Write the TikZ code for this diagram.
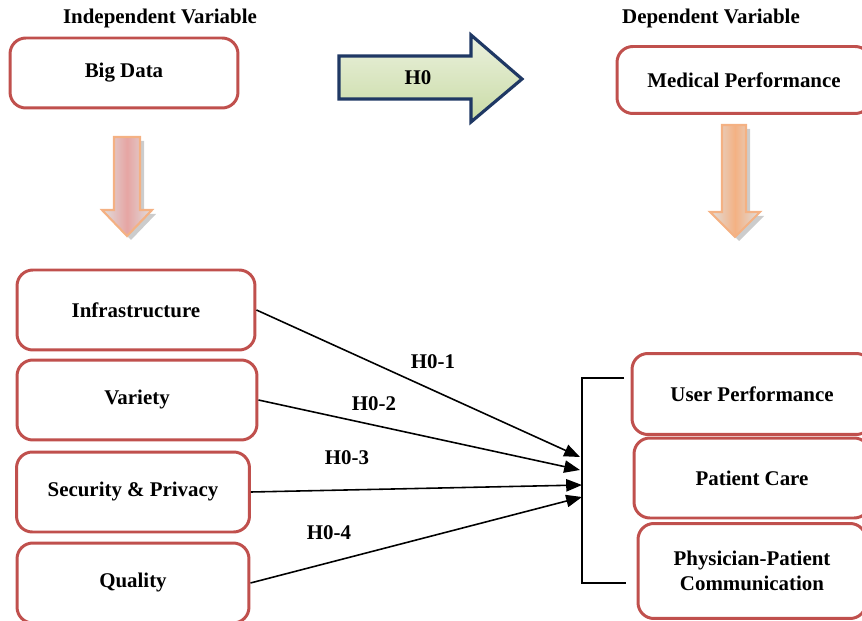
\documentclass[tikz,border=0pt]{standalone}
\usepackage{fontspec}
\setmainfont{Liberation Serif}
\usetikzlibrary{arrows.meta}
\definecolor{boxred}{HTML}{C0504D}
\definecolor{navy}{HTML}{1F3864}
\definecolor{lightgreen}{HTML}{EBF1DE}
\definecolor{midgreen}{HTML}{C9DBA5}
\definecolor{peach}{HTML}{F4B183}
\definecolor{rosy}{HTML}{E6A5A3}

\tikzset{
  varbox/.style={draw=boxred, line width=1.7pt, rounded corners=9pt, fill=white,
                 font=\fontsize{11.9pt}{14pt}\selectfont\bfseries, align=center, inner sep=0pt},
  hyp/.style={-{Triangle[length=9pt,width=7pt]}, line width=0.9pt},
  hlabel/.style={font=\fontsize{11.9pt}{14pt}\selectfont\bfseries},
  downarrow/.style={draw=peach, line width=1.2pt},
}

\begin{document}
\begin{tikzpicture}[x=0.02cm, y=-0.02cm]
\useasboundingbox (0,0) rectangle (862,621);

\node[hlabel] (indep) at (160,18) {Independent Variable};
\node[hlabel] (dep) at (711,18) {Dependent Variable};

\node[varbox, minimum width=4.56cm, minimum height=1.4cm] (bigdata) at (124,73) {Big Data};
\node[varbox, minimum width=5.08cm, minimum height=1.34cm] (medperf) at (744,80) {Medical Performance};

% main hypothesis arrow
\path[draw=navy, line width=1.8pt, top color=lightgreen, bottom color=midgreen]
  (339,56) -- (471,56) -- (471,35) -- (522,79) -- (471,122) -- (471,99) -- (339,99) -- cycle;
\node[hlabel] (h0) at (418,78) {H0};

% down arrows
\fill[gray!40] (118,141) -- (144,141) -- (144,214) -- (156,214) -- (131,240) -- (106,214) -- (118,214) -- cycle;
\path[downarrow, left color=gray!25, right color=gray!25, middle color=rosy]
  (114,137) -- (140,137) -- (140,210) -- (152,210) -- (127,236) -- (102,210) -- (114,210) -- cycle;
\fill[gray!40] (726,129) -- (750,129) -- (750,216) -- (764,216) -- (739,241) -- (714,216) -- (726,216) -- cycle;
\path[downarrow, left color=gray!25, right color=gray!25, middle color=peach]
  (722,125) -- (746,125) -- (746,212) -- (760,212) -- (735,237) -- (710,212) -- (722,212) -- cycle;

% dimensions of big data
\node[varbox, minimum width=4.76cm, minimum height=1.6cm] (infra) at (136,310) {Infrastructure};
\node[varbox, minimum width=4.8cm, minimum height=1.6cm] (variety) at (137,400) {Variety};
\node[varbox, minimum width=4.66cm, minimum height=1.6cm] (secur) at (133,492) {Security \& Privacy};
\node[varbox, minimum width=4.64cm, minimum height=1.6cm] (quality) at (133,583) {Quality};

% dimensions of medical performance
\node[varbox, minimum width=4.8cm, minimum height=1.62cm] (userperf) at (752,394) {User Performance};
\node[varbox, minimum width=4.72cm, minimum height=1.6cm] (care) at (752,478) {Patient Care};
\node[varbox, minimum width=4.56cm, minimum height=1.9cm] (comm) at (752,571) {Physician-Patient\\Communication};

\coordinate (bt) at (624,378);
\coordinate (bb) at (626,583);
\draw[line width=0.9pt] (bt) -- ++(-42,0) |- (bb);

\coordinate (e1) at (580,457);
\coordinate (e2) at (580,470);
\coordinate (e3) at (582,485);
\coordinate (e4) at (582,497);
\draw[hyp] (infra.east) -- (e1);
\draw[hyp] (variety.east) -- (e2);
\draw[hyp] (secur.east) -- (e3);
\draw[hyp] (quality.east) -- (e4);

\node[hlabel] (h01) at (433,362) {H0-1};
\node[hlabel] (h02) at (374,404) {H0-2};
\node[hlabel] (h03) at (347,458) {H0-3};
\node[hlabel] (h04) at (329,533) {H0-4};
\end{tikzpicture}
\end{document}
